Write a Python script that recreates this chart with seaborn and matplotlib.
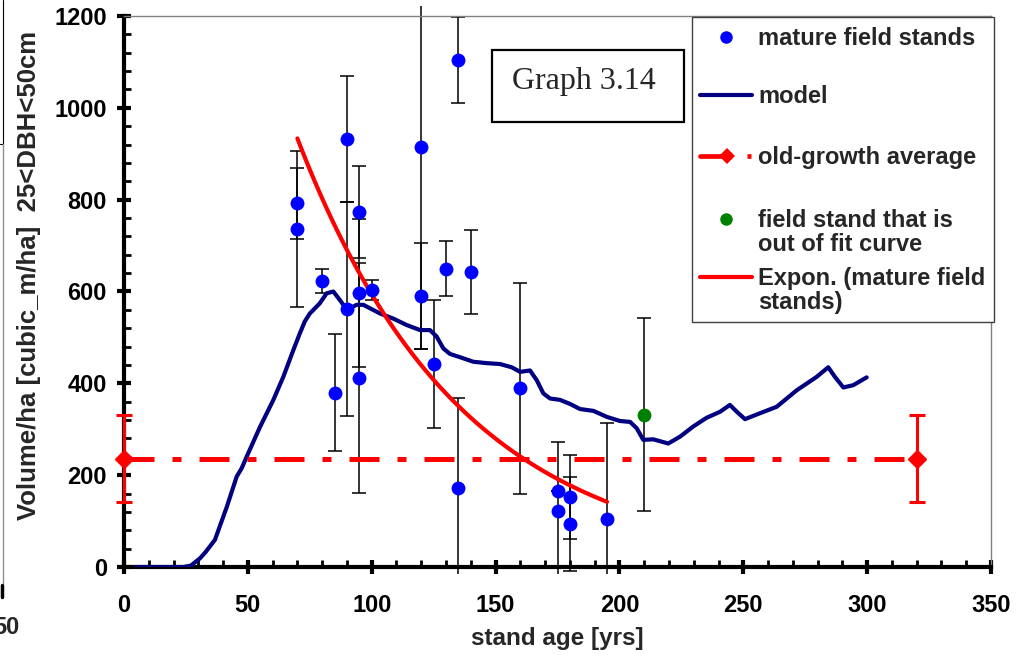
# stand volume vs age, 25<DBH<50cm
import numpy as np
import pandas as pd
import matplotlib
matplotlib.use("Agg")
import matplotlib.pyplot as plt
import seaborn as sns
from matplotlib.lines import Line2D
from matplotlib.patches import Rectangle
from matplotlib.ticker import MultipleLocator

# DATA
stand_age = [70, 70, 80, 85, 90, 90, 95, 95, 95, 100, 120, 120, 125, 130, 135, 135, 140, 160, 175, 175, 180, 180, 195]
stand_vol = [792, 737, 623, 380, 933, 562, 773, 597, 411, 603, 915, 590, 442, 650, 1104, 171, 643, 389, 165, 122, 153, 94, 104]
stand_err = [78, 170, 27, 128, 137, 233, 100, 161, 250, 21, 441, 116, 140, 60, 93, 196, 91, 230, 0, 150, 92, 103, 210]

outlier_age = [210]
outlier_vol = [332]
outlier_err = [211]

oldgrowth_age = [0, 320]
oldgrowth_vol = [236, 236]
oldgrowth_err = [95, 95]

model_age = [5, 24, 27, 30.7, 33, 36.7, 41.5, 45.5, 47.5, 49.5, 54.9, 60.3, 64.3, 68.4, 71, 73, 75, 79,
             81.8, 84.5, 87.2, 90, 93.9, 96.6, 103.4, 108.7, 114.1, 119.5, 123.5, 126.2, 128.9, 131.6,
             135.6, 141, 146.4, 151.8, 156.5, 159.9, 163.9, 166.6, 169.3, 172, 176, 180.1, 184.1,
             189.5, 194.9, 200.2, 204.3, 207, 209.6, 213.7, 219.7, 224.5, 229.8, 235.2, 240.6, 244.6,
             247.4, 250.7, 256.8, 263.5, 271.6, 279.6, 284.3, 287, 290.4, 294.4, 299.8]
model_vol = [0, 0, 3, 19, 33, 59, 131, 197, 215, 240, 305, 364, 414, 473, 509, 535, 552, 574,
             596, 600, 581, 560, 571, 571, 552, 541, 527, 516, 516, 502, 476, 464,
             457, 447, 444, 442, 435, 425, 428, 407, 378, 367, 364, 355, 344,
             340, 327, 318, 316, 302, 277, 278, 269, 284, 306, 325, 338, 353,
             338, 322, 335, 349, 385, 414, 435, 414, 391, 396, 413]

x_ticks = [0, 50, 100, 150, 200, 250, 300, 350]
y_ticks = [0, 200, 400, 600, 800, 1000, 1200]

legend_labels = ["mature field stands", "model", "old-growth average",
                 "field stand that is\nout of fit curve", "Expon. (mature field\nstands)"]

# exponential trendline fitted on the mature stands (like Excel's "Expon.")
b, a = np.polyfit(stand_age, np.log(stand_vol), 1)
trend_age = np.linspace(min(stand_age), max(stand_age), 120)
trend_vol = np.exp(a + b * trend_age)

stands = pd.DataFrame({"age": stand_age, "vol": stand_vol, "err": stand_err})
outlier = pd.DataFrame({"age": outlier_age, "vol": outlier_vol, "err": outlier_err})
model = pd.DataFrame({"age": model_age, "vol": model_vol})
trend = pd.DataFrame({"age": trend_age, "vol": trend_vol})

# SETTINGS
sns.set_theme(style="white")
plt.rcParams["font.family"] = ["Liberation Sans", "DejaVu Sans"]
plt.rcParams["font.weight"] = "bold"

W, H = 1018, 659
def fx(px):
    return px / W
def fy(py):
    return 1 - py / H

fig = plt.figure(figsize=(W / 100, H / 100), dpi=100)
ax = fig.add_axes([fx(124), fy(567), (991 - 124) / W, (567 - 16) / H])

BLUE = "#0000FF"
NAVY = "#000080"
RED = "#FF0000"
GREEN = "#008000"

clip = Rectangle((0, -0.012), 1, 1.03, transform=ax.transAxes)

def clip_errorbars(cont):
    for art in list(cont.lines[1]) + list(cont.lines[2]):
        art.set_clip_on(True)
        art.set_clip_path(clip)

# error bars
eb = ax.errorbar(stands["age"], stands["vol"], yerr=stands["err"], fmt="none", ecolor="black",
                 elinewidth=1.1, capsize=5, capthick=1.1, zorder=2)
clip_errorbars(eb)
eb = ax.errorbar(outlier["age"], outlier["vol"], yerr=outlier["err"], fmt="none", ecolor="black",
                 elinewidth=1.1, capsize=5, capthick=1.1, zorder=2)
clip_errorbars(eb)

# model curve
sns.lineplot(data=model, x="age", y="vol", color=NAVY, lw=3, sort=False, ax=ax, zorder=3,
             solid_joinstyle="round", solid_capstyle="round")

# old-growth average
ax.plot(oldgrowth_age, oldgrowth_vol, color=RED, lw=3.6, linestyle=(0, (6, 3.6, 1.8, 3.6)), zorder=3)
og = ax.errorbar(oldgrowth_age, oldgrowth_vol, yerr=oldgrowth_err, fmt="D", color=RED, ms=9,
                 elinewidth=2.2, capsize=6, capthick=2.2, zorder=6)
for art in [og.lines[0]] + list(og.lines[1]) + list(og.lines[2]):
    art.set_clip_on(False)

# exponential trend
sns.lineplot(data=trend, x="age", y="vol", color=RED, lw=3, ax=ax, zorder=4)

# points
sns.scatterplot(data=stands, x="age", y="vol", color=BLUE, s=100, linewidth=0, ax=ax, zorder=5)
sns.scatterplot(data=outlier, x="age", y="vol", color=GREEN, s=100, linewidth=0, ax=ax, zorder=5)

# axes
ax.set_xlim(0, 350)
ax.set_ylim(0, 1200)
ax.set_xticks(x_ticks)
ax.set_yticks(y_ticks)
ax.xaxis.set_minor_locator(MultipleLocator(10))
ax.yaxis.set_minor_locator(MultipleLocator(40))
ax.tick_params(axis="both", which="major", direction="inout", length=9.5, width=3,
               labelsize=17, colors="black", bottom=True, left=True)
ax.tick_params(axis="x", which="major", pad=15)
ax.tick_params(axis="y", which="major", pad=7.5)
ax.tick_params(axis="both", which="minor", direction="in", length=5, width=2,
               bottom=True, left=True, colors="black")
for lab in ax.get_xticklabels() + ax.get_yticklabels():
    lab.set_fontweight("bold")

for side in ["left", "bottom"]:
    ax.spines[side].set_color("black")
    ax.spines[side].set_linewidth(3)
for side in ["top", "right"]:
    ax.spines[side].set_color("#808080")
    ax.spines[side].set_linewidth(1)

ax.set_xlabel("stand age [yrs]", fontsize=17.5, fontweight="bold", labelpad=7)
ax.set_ylabel("Volume/ha [cubic_m/ha]  25<DBH<50cm", fontsize=18.5, fontweight="bold")
ax.yaxis.set_label_coords(-0.096, 0.53)

# "Graph 3.14" box
fig.add_artist(Rectangle((fx(492), fy(122)), (684 - 492) / W, (122 - 50) / H, transform=fig.transFigure,
                         facecolor="white", edgecolor="black", lw=1.6, zorder=3))
fig.text(fx(584), fy(82), "Graph 3.14", ha="center", va="center", fontsize=23,
         family=["Liberation Serif"], fontweight="normal", zorder=4)

# legend
fig.add_artist(Rectangle((fx(692), fy(322)), (994 - 692) / W, (322 - 17) / H, transform=fig.transFigure,
                         facecolor="white", edgecolor="#404040", lw=1, zorder=3))
ly = [37, 95, 156, 219, 277]
fig.add_artist(Line2D([fx(726)], [fy(ly[0])], marker="o", ms=9, color=BLUE, mew=0,
                      transform=fig.transFigure, zorder=4))
fig.add_artist(Line2D([fx(700), fx(752)], [fy(ly[1])] * 2, color=NAVY, lw=3,
                      transform=fig.transFigure, zorder=4))
fig.add_artist(Line2D([fx(700), fx(727)], [fy(ly[2])] * 2, color=RED, lw=3.4,
                      transform=fig.transFigure, zorder=4))
fig.add_artist(Line2D([fx(727)], [fy(ly[2])], marker="D", ms=8, color=RED, mew=0,
                      transform=fig.transFigure, zorder=4))
fig.add_artist(Line2D([fx(747), fx(751)], [fy(ly[2])] * 2, color=RED, lw=3.4, solid_capstyle="butt",
                      transform=fig.transFigure, zorder=4))
fig.add_artist(Line2D([fx(726)], [fy(ly[3])], marker="o", ms=9, color=GREEN, mew=0,
                      transform=fig.transFigure, zorder=4))
fig.add_artist(Line2D([fx(700), fx(752)], [fy(ly[4])] * 2, color=RED, lw=3,
                      transform=fig.transFigure, zorder=4))
for y, lab in zip(ly, legend_labels):
    fig.text(fx(758), fy(y - 10), lab, ha="left", va="top", fontsize=17, fontweight="bold",
             linespacing=1.05, zorder=5)

# bits of the neighbouring chart cut in at the left edge
fig.add_artist(Line2D([fx(3), fx(3), fx(0)], [fy(0), fy(144), fy(144)], color="black", lw=0.8,
                      transform=fig.transFigure))
fig.add_artist(Line2D([fx(2.5), fx(2.5)], [fy(144), fy(583)], color="#909090", lw=1,
                      transform=fig.transFigure))
fig.add_artist(Line2D([fx(1.5), fx(1.5)], [fy(585), fy(597)], color="black", lw=2.5,
                      transform=fig.transFigure))
fig.text(fx(20), fy(628), "50", ha="right", va="center", fontsize=17, fontweight="bold")

fig.savefig("out.png", dpi=100)
